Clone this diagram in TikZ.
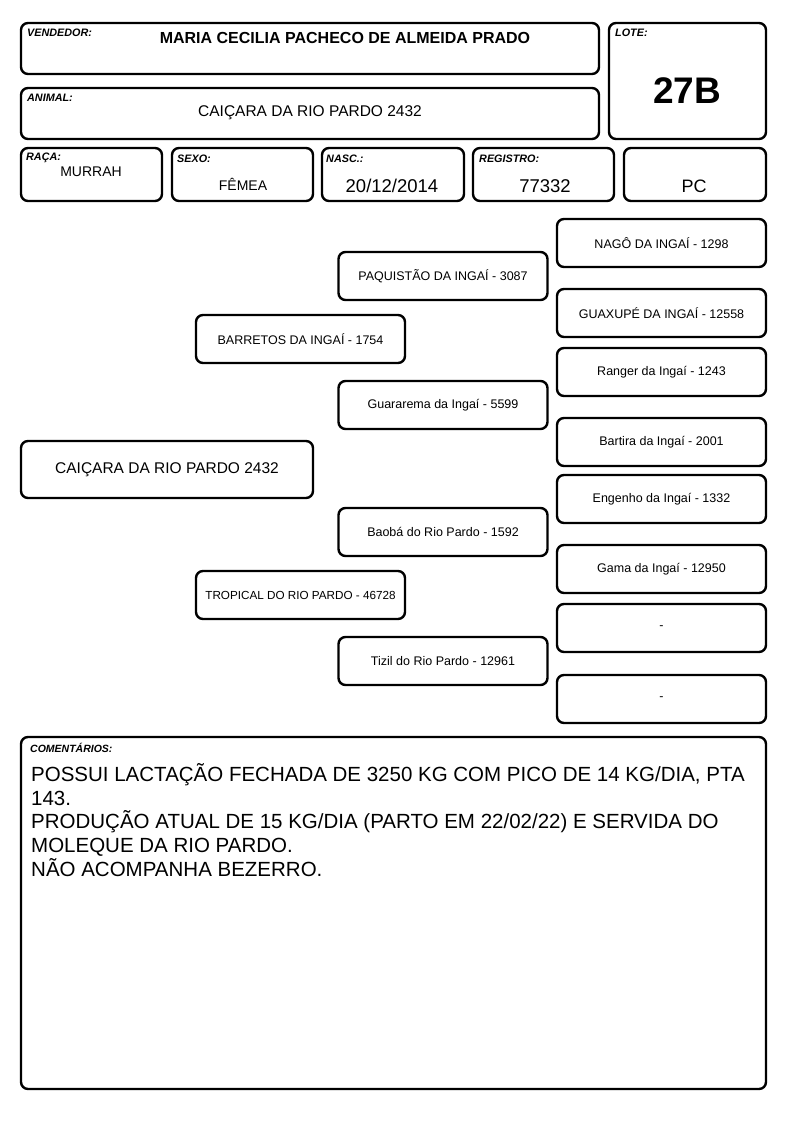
\documentclass[tikz,border=0pt]{standalone}
\usepackage{fontspec}
\setmainfont{Liberation Sans}
\tikzset{
  box/.style={draw=black, line width=2.4pt, rounded corners=7pt, inner sep=0pt, outer sep=0pt, fill=white},
  lbl/.style={inner sep=0pt, anchor=north west, font=\fontsize{10.8}{12}\selectfont\bfseries\itshape},
  txt/.style={inner sep=0pt},
  ped/.style={box, minimum width=209pt, minimum height=48pt, font=\fontsize{12.5}{14}\selectfont},
}
\begin{document}
\begin{tikzpicture}[x=1pt,y=-1pt]
\useasboundingbox (0,0) rectangle (794,1123);
% header
\node[box, minimum width=578pt, minimum height=51pt] (vend) at (310,48.5) {};
\node[lbl] (vendl) at (27,29) {VENDEDOR:};
\node[txt, font=\fontsize{16}{18}\selectfont\bfseries] (vendt) at (345,38) {MARIA CECILIA PACHECO DE ALMEIDA PRADO};
\node[box, minimum width=578pt, minimum height=51pt] (anim) at (310,113.5) {};
\node[lbl] (animl) at (27,94) {ANIMAL:};
\node[txt, font=\fontsize{15.5}{18}\selectfont] (animt) at (310,113) {CAIÇARA DA RIO PARDO 2432};
\node[box, minimum width=157pt, minimum height=116pt] (lote) at (687.5,81) {};
\node[lbl] (lotel) at (615,29) {LOTE:};
\node[txt, font=\fontsize{37}{40}\selectfont\bfseries] (lotet) at (687,91) {27B};
% row
\node[box, minimum width=141pt, minimum height=53pt] (raca) at (91.5,174.5) {};
\node[lbl] (racal) at (26,153) {RAÇA:};
\node[txt, font=\fontsize{14}{16}\selectfont] (racat) at (91,172) {MURRAH};
\node[box, minimum width=141pt, minimum height=53pt] (sexo) at (242.5,174.5) {};
\node[lbl] (sexol) at (177,155) {SEXO:};
\node[txt, font=\fontsize{14}{16}\selectfont] (sexot) at (243,184) {FÊMEA};
\node[box, minimum width=142pt, minimum height=53pt] (nasc) at (393,174.5) {};
\node[lbl] (nascl) at (326,155) {NASC.:};
\node[txt, font=\fontsize{18.5}{20}\selectfont] (nasct) at (392,186) {20/12/2014};
\node[box, minimum width=141pt, minimum height=53pt] (reg) at (543.5,174.5) {};
\node[lbl] (regl) at (479,155) {REGISTRO:};
\node[txt, font=\fontsize{18.5}{20}\selectfont] (regt) at (545,186) {77332};
\node[box, minimum width=142pt, minimum height=53pt] (pc) at (695,174.5) {};
\node[txt, font=\fontsize{18}{20}\selectfont] (pct) at (694,186) {PC};
% pedigree
\node[box, minimum width=292pt, minimum height=57pt, font=\fontsize{15.5}{18}\selectfont] (main) at (167,469.5) {CAIÇARA DA RIO PARDO 2432};
\node[ped] (barretos) at (300.5,339) {BARRETOS DA INGAÍ - 1754};
\node[ped, font=\fontsize{11.7}{14}\selectfont] (tropical) at (300.5,595) {TROPICAL DO RIO PARDO - 46728};
\node[ped] (paq) at (443,276) {PAQUISTÃO DA INGAÍ - 3087};
\node[ped] (guar) at (443,405) {Guararema da Ingaí - 5599};
\node[ped] (baoba) at (443,532) {Baobá do Rio Pardo - 1592};
\node[ped] (tizil) at (443,661) {Tizil do Rio Pardo - 12961};
\node[ped] (nago) at (661.5,243) {NAGÔ DA INGAÍ - 1298};
\node[ped] (guax) at (661.5,313) {GUAXUPÉ DA INGAÍ - 12558};
\node[ped] (ranger) at (661.5,372) {Ranger da Ingaí - 1243};
\node[ped] (bartira) at (661.5,442) {Bartira da Ingaí - 2001};
\node[ped] (engenho) at (661.5,499) {Engenho da Ingaí - 1332};
\node[ped] (gama) at (661.5,569) {Gama da Ingaí - 12950};
\node[ped] (d1) at (661.5,628) {-};
\node[ped] (d2) at (661.5,699) {-};
% comments
\node[box, minimum width=745pt, minimum height=352pt] (com) at (393.5,913) {};
\node[lbl, font=\fontsize{10.5}{12}\selectfont\bfseries\itshape] (coml) at (30,743) {COMENTÁRIOS:};
\node[txt, anchor=north west, align=left, font=\fontsize{20.5}{23.8}\selectfont] (comt) at (31,763) {POSSUI LACTAÇÃO FECHADA DE 3250 KG COM PICO DE 14 KG/DIA, PTA\\143.\\PRODUÇÃO ATUAL DE 15 KG/DIA (PARTO EM 22/02/22) E SERVIDA DO\\MOLEQUE DA RIO PARDO.\\NÃO ACOMPANHA BEZERRO.};
\end{tikzpicture}
\end{document}
